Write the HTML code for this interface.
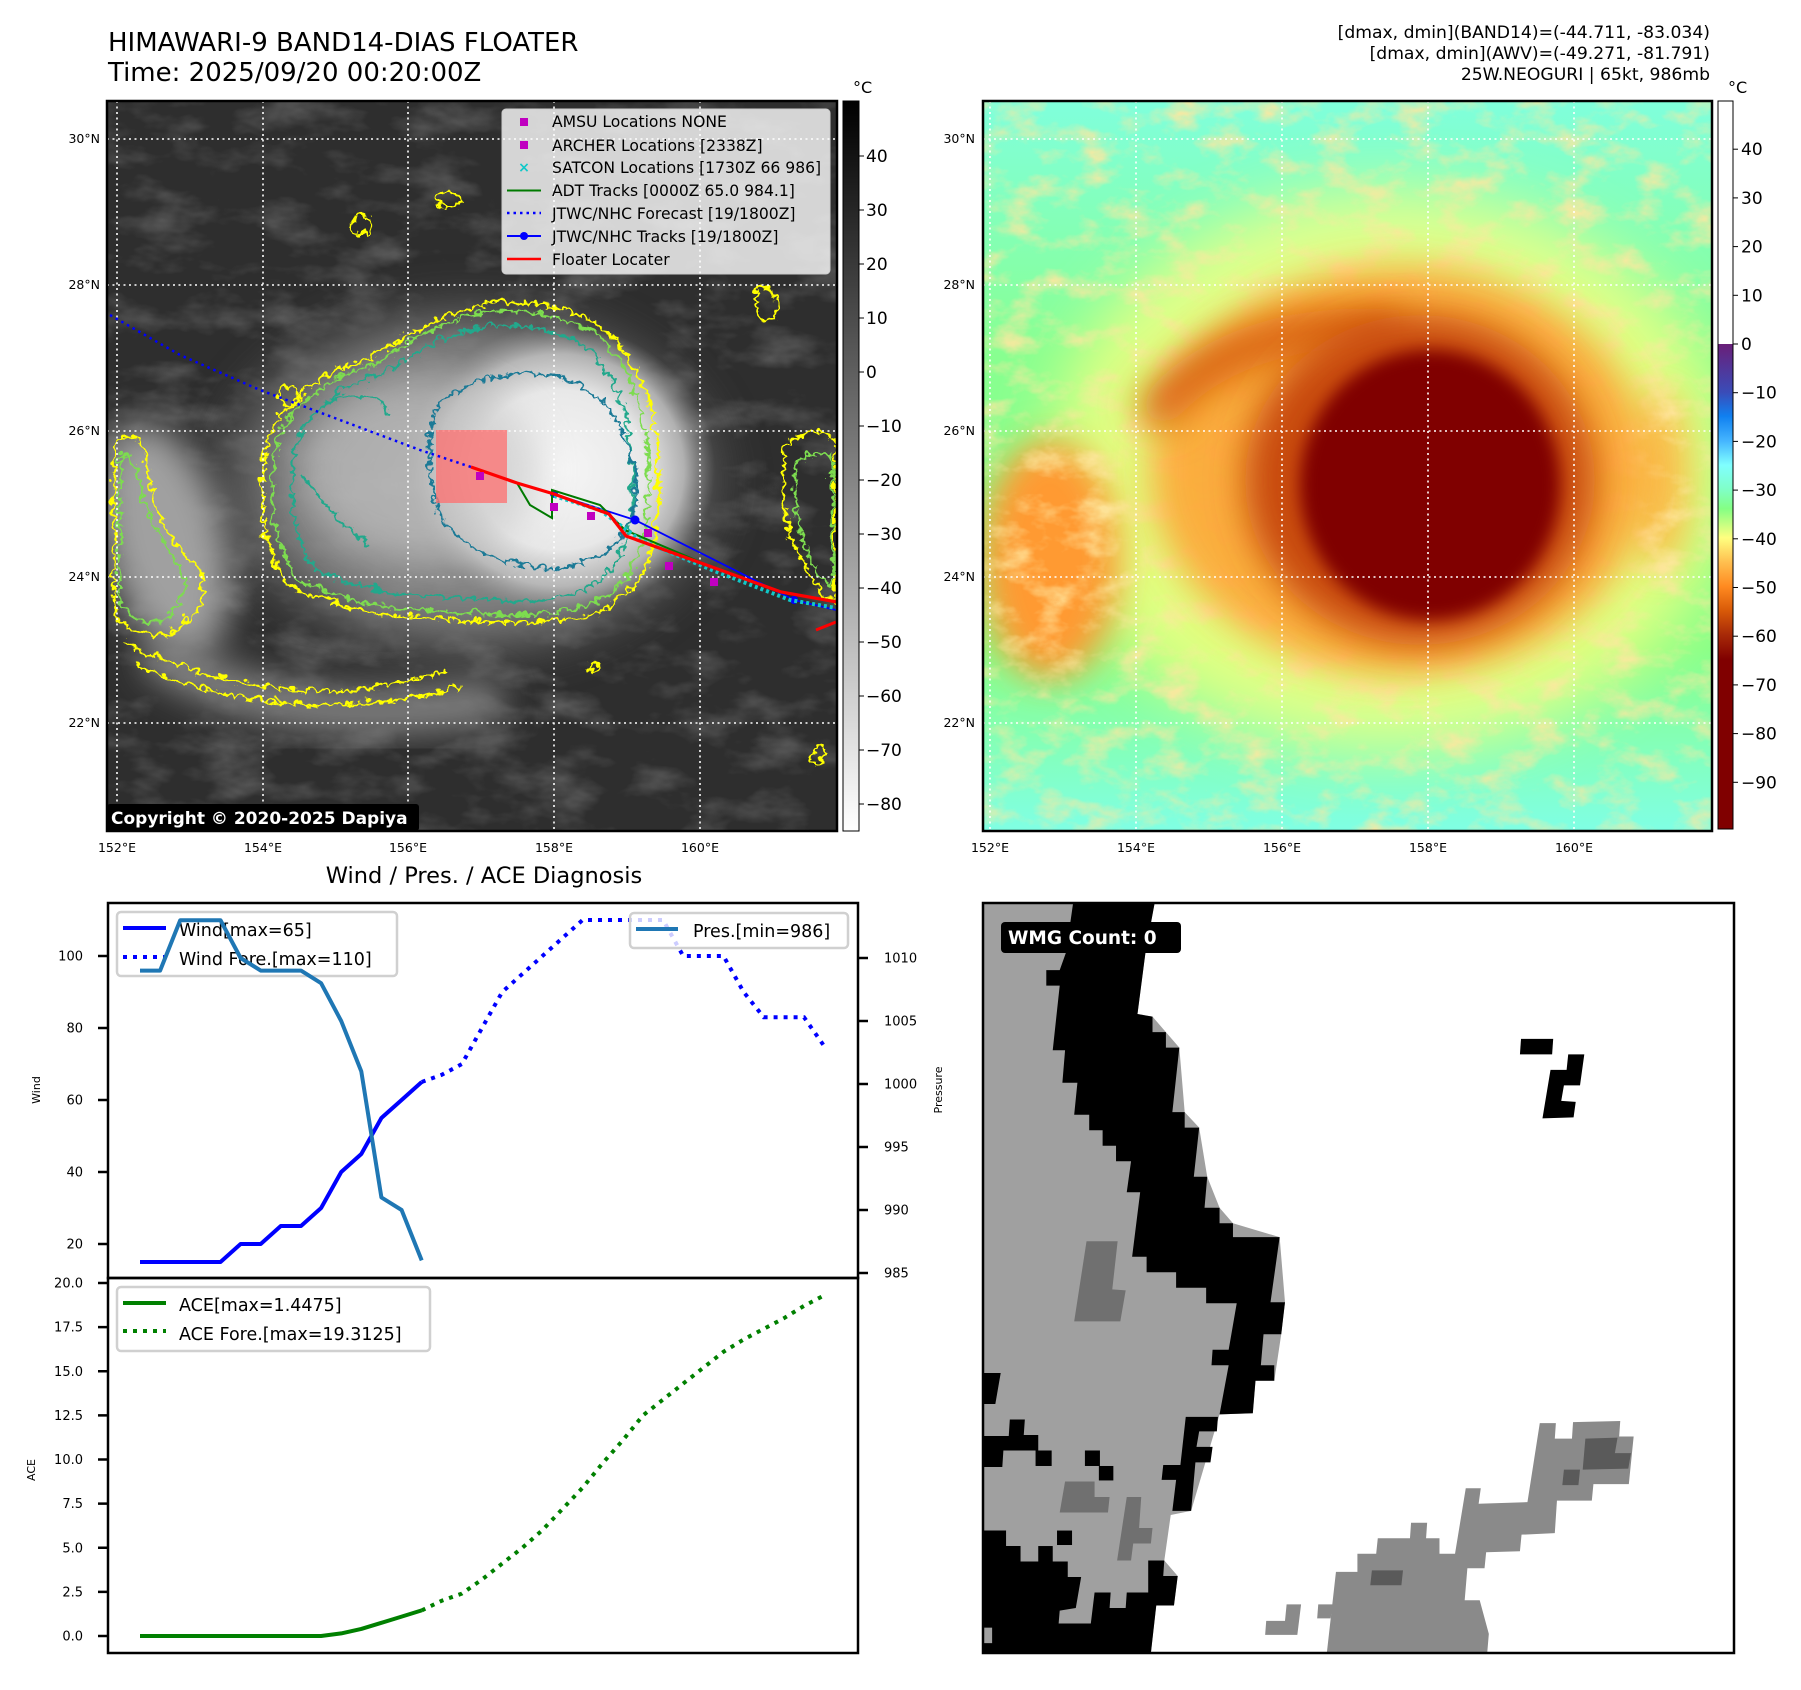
<!DOCTYPE html>
<html><head><meta charset="utf-8"><style>
html,body{margin:0;padding:0;background:#fff;}
svg{display:block;font-family:"DejaVu Sans","Liberation Sans",sans-serif;}
</style></head><body>
<svg id="root" width="1801" height="1690" viewBox="0 0 1801 1690" xmlns="http://www.w3.org/2000/svg">
<defs>
 <clipPath id="clipL"><rect x="107" y="101" width="730" height="730"/></clipPath>
 <clipPath id="clipR"><rect x="983" y="101" width="729" height="730"/></clipPath>
 <filter id="noiseL" x="0" y="0" width="100%" height="100%"><feTurbulence type="fractalNoise" baseFrequency="0.015 0.03" numOctaves="4" seed="3"/><feColorMatrix type="matrix" values="0 0 0 0 1 0 0 0 0 1 0 0 0 0 1 1.6 0 0 0 -0.75"/></filter>
 <filter id="noiseR" x="0" y="0" width="100%" height="100%"><feTurbulence type="fractalNoise" baseFrequency="0.025 0.04" numOctaves="4" seed="7"/><feColorMatrix type="matrix" values="0 0 0 0 1 0 0 0 0 0.8 0 0 0 0 0.35 2.4 0 0 0 -1.1"/></filter>
 <filter id="blur30" x="-60%" y="-60%" width="220%" height="220%"><feGaussianBlur stdDeviation="30"/></filter>
 <filter id="blur18" x="-60%" y="-60%" width="220%" height="220%"><feGaussianBlur stdDeviation="18"/></filter>
 <filter id="blur8" x="-40%" y="-40%" width="180%" height="180%"><feGaussianBlur stdDeviation="8"/></filter>
 <filter id="wig" x="-10%" y="-10%" width="120%" height="120%"><feTurbulence type="turbulence" baseFrequency="0.045" numOctaves="2" seed="2" result="t"/><feDisplacementMap in="SourceGraphic" in2="t" scale="22" xChannelSelector="R" yChannelSelector="G"/></filter>
 <linearGradient id="cbL" x1="0" y1="0" x2="0" y2="1"><stop offset="0" stop-color="#000"/><stop offset="1" stop-color="#fff"/></linearGradient>
 <linearGradient id="cbR" x1="0" y1="101" x2="0" y2="829" gradientUnits="userSpaceOnUse">
  <stop offset="0" stop-color="#fff"/><stop offset="0.3337" stop-color="#fff"/>
  <stop offset="0.3338" stop-color="#6a1f78"/><stop offset="0.40" stop-color="#3a4cb8"/>
  <stop offset="0.433" stop-color="#1080f0"/><stop offset="0.467" stop-color="#45b5ff"/>
  <stop offset="0.50" stop-color="#80ffff"/><stop offset="0.533" stop-color="#80ffc8"/>
  <stop offset="0.56" stop-color="#84ff84"/><stop offset="0.60" stop-color="#ffff80"/>
  <stop offset="0.633" stop-color="#ffc050"/><stop offset="0.667" stop-color="#ff8a20"/>
  <stop offset="0.70" stop-color="#d85a08"/><stop offset="0.733" stop-color="#a82a08"/>
  <stop offset="0.767" stop-color="#800000"/><stop offset="1" stop-color="#800000"/>
 </linearGradient>
 <radialGradient id="coreL"><stop offset="0" stop-color="#f6f6f6"/><stop offset="0.55" stop-color="#e8e8e8"/><stop offset="0.8" stop-color="#c4c4c4" stop-opacity="0.8"/><stop offset="1" stop-color="#999" stop-opacity="0"/></radialGradient>
 <radialGradient id="bandL"><stop offset="0" stop-color="#b0b0b0"/><stop offset="0.7" stop-color="#8a8a8a"/><stop offset="1" stop-color="#555" stop-opacity="0"/></radialGradient>
 <linearGradient id="bgR" x1="0" y1="0" x2="0" y2="1"><stop offset="0" stop-color="#80ffdc"/><stop offset="0.35" stop-color="#88ff90"/><stop offset="0.75" stop-color="#88ff88"/><stop offset="1" stop-color="#80ffe4"/></linearGradient>
</defs>

<text x="108" y="51" font-size="26" fill="#000">HIMAWARI-9 BAND14-DIAS FLOATER</text>
<text x="108" y="81" font-size="26" fill="#000">Time: 2025/09/20 00:20:00Z</text>
<g font-size="17.2" text-anchor="end" fill="#000">
 <text x="1710" y="38">[dmax, dmin](BAND14)=(-44.711, -83.034)</text>
 <text x="1710" y="59">[dmax, dmin](AWV)=(-49.271, -81.791)</text>
 <text x="1710" y="80">25W.NEOGURI | 65kt, 986mb</text>
</g>

<!-- LEFT MAP -->
<g clip-path="url(#clipL)">
 <rect x="107" y="101" width="730" height="730" fill="#2e2e2e"/>
 <rect x="107" y="101" width="730" height="730" filter="url(#noiseL)" opacity="0.3"/>
 <ellipse cx="470" cy="480" rx="280" ry="200" fill="url(#bandL)" filter="url(#blur18)" opacity="0.85"/>
 <ellipse cx="165" cy="540" rx="60" ry="120" fill="#a0a0a0" filter="url(#blur18)" transform="rotate(-15 165 540)"/>
 <path d="M150,650 C260,720 380,720 500,700" stroke="#8a8a8a" stroke-width="40" fill="none" filter="url(#blur18)"/>
 <ellipse cx="560" cy="470" rx="155" ry="145" fill="url(#coreL)"/>
 <ellipse cx="420" cy="470" rx="120" ry="90" fill="#c8c8c8" opacity="0.6" filter="url(#blur18)"/>
 <g transform="translate(107,101) scale(0.5747,0.556) translate(-188,-182)" fill="none" filter="url(#wig)">
  <path vector-effect="non-scaling-stroke" stroke="#ffff00" stroke-width="2.5" d="M460,800 C480,720 560,660 640,640 C700,600 760,560 830,545 C900,530 960,545 1000,560 C1060,580 1100,640 1120,700 C1145,780 1150,900 1130,980 C1110,1060 1060,1100 980,1110 C900,1120 800,1110 720,1105 C640,1100 560,1080 500,1050 C460,1000 440,900 460,800 Z"/>
  <path vector-effect="non-scaling-stroke" stroke="#7ddc50" stroke-width="2.5" transform="translate(800,830) scale(0.95) translate(-800,-830)" d="M460,800 C480,720 560,660 640,640 C700,600 760,560 830,545 C900,530 960,545 1000,560 C1060,580 1100,640 1120,700 C1145,780 1150,900 1130,980 C1110,1060 1060,1100 980,1110 C900,1120 800,1110 720,1105 C640,1100 560,1080 500,1050 C460,1000 440,900 460,800 Z"/>
  <path vector-effect="non-scaling-stroke" stroke="#23a88c" stroke-width="2.5" transform="translate(820,830) scale(0.86) translate(-820,-830)" d="M460,800 C480,720 560,660 640,640 C700,600 760,560 830,545 C900,530 960,545 1000,560 C1060,580 1100,640 1120,700 C1145,780 1150,900 1130,980 C1110,1060 1060,1100 980,1110 C900,1120 800,1110 720,1105 C640,1100 560,1080 500,1050 C460,1000 440,900 460,800 Z"/>
  <path vector-effect="non-scaling-stroke" stroke="#1f7a96" stroke-width="2.5" d="M760,720 C800,680 880,660 960,670 C1040,690 1090,760 1100,840 C1110,920 1080,990 1000,1010 C920,1030 840,1000 790,960 C740,920 730,780 760,720 Z"/>
  <path vector-effect="non-scaling-stroke" stroke="#ffff00" stroke-width="2.5" d="M195,790 C225,765 245,780 255,850 C265,920 300,980 335,1010 C370,1060 340,1110 290,1135 C250,1145 210,1125 195,1100 Z"/>
  <path vector-effect="non-scaling-stroke" stroke="#7ddc50" stroke-width="2.5" d="M205,820 C225,800 235,820 240,870 C250,930 290,990 315,1020 C330,1060 300,1100 270,1115 C240,1115 215,1100 205,1080 Z"/>
  <path vector-effect="non-scaling-stroke" stroke="#ffff00" stroke-width="2.5" d="M210,1150 C310,1200 400,1225 500,1235 C600,1245 700,1225 770,1200 M230,1190 C320,1230 420,1255 520,1262 C620,1268 720,1250 800,1230"/>
  <path vector-effect="non-scaling-stroke" stroke="#23a88c" stroke-width="2.5" d="M560,720 C600,700 650,700 680,740 M520,850 C560,900 600,950 640,980"/>
  <ellipse vector-effect="non-scaling-stroke" stroke="#ffff00" stroke-width="2.5" cx="775" cy="352" rx="22" ry="14"/>
  <ellipse vector-effect="non-scaling-stroke" stroke="#ffff00" stroke-width="2.5" cx="625" cy="400" rx="18" ry="20"/>
  <ellipse vector-effect="non-scaling-stroke" stroke="#ffff00" stroke-width="2.5" cx="500" cy="708" rx="20" ry="16"/>
  <ellipse vector-effect="non-scaling-stroke" stroke="#ffff00" stroke-width="2.5" cx="1330" cy="540" rx="20" ry="30"/>
  <path vector-effect="non-scaling-stroke" stroke="#ffff00" stroke-width="2.5" d="M1360,800 C1400,760 1440,760 1450,800 L1450,1080 C1410,1060 1370,980 1360,900 Z"/>
  <path vector-effect="non-scaling-stroke" stroke="#7ddc50" stroke-width="2.5" d="M1380,830 C1410,800 1440,800 1445,830 L1445,1050 C1410,1030 1385,960 1380,900 Z"/>
  <ellipse vector-effect="non-scaling-stroke" stroke="#ffff00" stroke-width="2.5" cx="1420" cy="1355" rx="10" ry="14"/>
  <ellipse vector-effect="non-scaling-stroke" stroke="#ffff00" stroke-width="2.5" cx="1030" cy="1195" rx="8" ry="6"/>
 </g>
 <g stroke="#fff" stroke-width="1.6" stroke-dasharray="2,3.5">
  <line x1="117" y1="101" x2="117" y2="831"/><line x1="263" y1="101" x2="263" y2="831"/><line x1="408" y1="101" x2="408" y2="831"/><line x1="554" y1="101" x2="554" y2="831"/><line x1="700" y1="101" x2="700" y2="831"/>
  <line x1="107" y1="139" x2="837" y2="139"/><line x1="107" y1="285" x2="837" y2="285"/><line x1="107" y1="431" x2="837" y2="431"/><line x1="107" y1="577" x2="837" y2="577"/><line x1="107" y1="723" x2="837" y2="723"/>
 </g>
 <rect x="436" y="430" width="71" height="73" fill="#ff6f6f" opacity="0.75"/>
 <polyline points="110,315 180,355 260,390 340,420 420,450 471,467" fill="none" stroke="#0000ff" stroke-width="2.5" stroke-dasharray="2.5,4"/>
 <polyline points="836,610 794,600 635,520 554,494" fill="none" stroke="#0000ff" stroke-width="1.8"/>
 <g fill="#0000ff"><circle cx="794" cy="600" r="4"/><circle cx="635" cy="520" r="4.5"/><circle cx="554" cy="494" r="4"/></g>
 <polyline points="517,483 530,505 552,518 552,490 600,505 625,530 712,567" fill="none" stroke="#007a00" stroke-width="2"/>
 <polyline points="554,496 600,510 640,540 712,570 790,600 836,608" fill="none" stroke="#10c8c8" stroke-width="4" stroke-dasharray="3,3"/>
 <polyline points="471,467 517,483 554,494 609,514 626,536 712,567 781,592 837,602" fill="none" stroke="#ff0000" stroke-width="3.2"/>
 <polyline points="816,630 836,622" stroke="#ff0000" stroke-width="3" fill="none"/>
 <g fill="#c000c0">
  <rect x="476" y="472" width="8" height="8"/><rect x="550" y="503" width="8" height="8"/><rect x="587" y="512" width="8" height="8"/><rect x="644" y="529" width="8" height="8"/><rect x="665" y="562" width="8" height="8"/><rect x="710" y="578" width="8" height="8"/>
 </g>
 <g>
  <rect x="502" y="109" width="328" height="165" rx="4" fill="#fff" fill-opacity="0.8" stroke="#ccc" stroke-width="1"/>
  <g font-size="15.6" fill="#000">
   <rect x="520" y="118" width="8" height="8" fill="#c000c0"/><text x="552" y="127">AMSU Locations NONE</text>
   <rect x="520" y="141" width="8" height="8" fill="#c000c0"/><text x="552" y="151">ARCHER Locations [2338Z]</text>
   <text x="524" y="172" fill="#10c8c8" text-anchor="middle" font-size="14" font-weight="bold">×</text><text x="552" y="173">SATCON Locations [1730Z 66 986]</text>
   <line x1="507" y1="190.5" x2="541" y2="190.5" stroke="#007a00" stroke-width="2"/><text x="552" y="196">ADT Tracks [0000Z 65.0 984.1]</text>
   <line x1="507" y1="213" x2="541" y2="213" stroke="#0000ff" stroke-width="2.5" stroke-dasharray="2.5,4"/><text x="552" y="219">JTWC/NHC Forecast [19/1800Z]</text>
   <line x1="507" y1="236" x2="541" y2="236" stroke="#0000ff" stroke-width="2"/><circle cx="524" cy="236" r="4" fill="#0000ff"/><text x="552" y="242">JTWC/NHC Tracks [19/1800Z]</text>
   <line x1="507" y1="259" x2="541" y2="259" stroke="#ff0000" stroke-width="2.5"/><text x="552" y="265">Floater Locater</text>
  </g>
 </g>
 <rect x="107" y="804" width="312" height="27" rx="3" fill="#000"/>
 <text x="111" y="824" font-size="17" font-weight="bold" fill="#fff">Copyright © 2020-2025 Dapiya</text>
</g>
<rect x="107" y="101" width="730" height="730" fill="none" stroke="#000" stroke-width="2.5"/>

<rect x="843" y="101" width="16" height="730" fill="url(#cbL)" stroke="#000" stroke-width="1"/>
<text x="853" y="93" font-size="16">°C</text>
<g id="cbLticks" font-size="17" fill="#000"></g>

<g font-size="12.5" fill="#000" text-anchor="end">
 <text x="100" y="143">30°N</text><text x="100" y="289">28°N</text><text x="100" y="435">26°N</text><text x="100" y="581">24°N</text><text x="100" y="727">22°N</text>
</g>
<g font-size="12.5" fill="#000" text-anchor="middle">
 <text x="117" y="852">152°E</text><text x="263" y="852">154°E</text><text x="408" y="852">156°E</text><text x="554" y="852">158°E</text><text x="700" y="852">160°E</text>
</g>

<!-- RIGHT MAP -->
<g clip-path="url(#clipR)">
 <rect x="983" y="101" width="729" height="730" fill="url(#bgR)"/>
 <ellipse cx="1390" cy="470" rx="340" ry="280" fill="#ffff80" opacity="0.75" filter="url(#blur30)"/>
 <ellipse cx="1050" cy="560" rx="70" ry="120" fill="#ff9a30" filter="url(#blur18)"/>
 <ellipse cx="1660" cy="480" rx="30" ry="90" fill="#ffb040" opacity="0.8" filter="url(#blur18)"/>
 <rect x="983" y="101" width="729" height="730" filter="url(#noiseR)" opacity="0.9"/>
 <ellipse cx="1400" cy="470" rx="250" ry="205" fill="#ffa030" opacity="0.85" filter="url(#blur18)"/>
 <path d="M1150,420 C1200,350 1300,320 1400,330" stroke="#d86010" stroke-width="40" fill="none" filter="url(#blur18)"/>
 <ellipse cx="1420" cy="480" rx="175" ry="165" fill="#c84808" filter="url(#blur18)"/>
 <ellipse cx="1430" cy="485" rx="130" ry="135" fill="#800000" filter="url(#blur8)"/>
 <g stroke="#fff" stroke-width="1.6" stroke-dasharray="2,3.5">
  <line x1="990" y1="101" x2="990" y2="831"/><line x1="1136" y1="101" x2="1136" y2="831"/><line x1="1282" y1="101" x2="1282" y2="831"/><line x1="1428" y1="101" x2="1428" y2="831"/><line x1="1574" y1="101" x2="1574" y2="831"/>
  <line x1="983" y1="139" x2="1712" y2="139"/><line x1="983" y1="285" x2="1712" y2="285"/><line x1="983" y1="431" x2="1712" y2="431"/><line x1="983" y1="577" x2="1712" y2="577"/><line x1="983" y1="723" x2="1712" y2="723"/>
 </g>
</g>
<rect x="983" y="101" width="729" height="730" fill="none" stroke="#000" stroke-width="2.5"/>
<rect x="1718" y="101" width="15" height="728" fill="url(#cbR)" stroke="#000" stroke-width="1"/>
<text x="1728" y="93" font-size="16">°C</text>
<g id="cbRticks" font-size="17" fill="#000"></g>
<g font-size="12.5" fill="#000" text-anchor="end">
 <text x="975" y="143">30°N</text><text x="975" y="289">28°N</text><text x="975" y="435">26°N</text><text x="975" y="581">24°N</text><text x="975" y="727">22°N</text>
</g>
<g font-size="12.5" fill="#000" text-anchor="middle">
 <text x="990" y="852">152°E</text><text x="1136" y="852">154°E</text><text x="1282" y="852">156°E</text><text x="1428" y="852">158°E</text><text x="1574" y="852">160°E</text>
</g>

<!-- WIND / PRES / ACE -->
<text x="484" y="883" font-size="22.5" text-anchor="middle">Wind / Pres. / ACE Diagnosis</text>
<g id="chart"></g>

<g>
 <rect x="117" y="912" width="280" height="64" rx="4" fill="#fff" fill-opacity="0.8" stroke="#d0d0d0" stroke-width="2.5"/>
 <line x1="123" y1="928" x2="166" y2="928" stroke="#0000ff" stroke-width="4"/>
 <line x1="123" y1="957" x2="166" y2="957" stroke="#0000ff" stroke-width="4" stroke-dasharray="4,6"/>
 <text x="179" y="936" font-size="17.5">Wind[max=65]</text>
 <text x="179" y="965" font-size="17.5">Wind Fore.[max=110]</text>
</g>
<g id="presLayer"></g>
<g>
 <rect x="630" y="913" width="218" height="35" rx="4" fill="#fff" fill-opacity="0.8" stroke="#d0d0d0" stroke-width="2.5"/>
 <line x1="636" y1="929" x2="678" y2="929" stroke="#1f77b4" stroke-width="4"/>
 <text x="693" y="937" font-size="17.5">Pres.[min=986]</text>
</g>
<g>
 <rect x="117" y="1287" width="313" height="64" rx="4" fill="#fff" fill-opacity="0.8" stroke="#d0d0d0" stroke-width="2.5"/>
 <line x1="123" y1="1303" x2="166" y2="1303" stroke="#008000" stroke-width="4"/>
 <line x1="123" y1="1331" x2="166" y2="1331" stroke="#008000" stroke-width="4" stroke-dasharray="4,6"/>
 <text x="179" y="1311" font-size="17.5">ACE[max=1.4475]</text>
 <text x="179" y="1340" font-size="17.5">ACE Fore.[max=19.3125]</text>
</g>
<rect x="108" y="903" width="750" height="375" fill="none" stroke="#000" stroke-width="2.5"/>
<rect x="108" y="1278" width="750" height="375" fill="none" stroke="#000" stroke-width="2.5"/>
<text transform="translate(40,1090) rotate(-90)" font-size="11" text-anchor="middle">Wind</text>
<text transform="translate(942,1090) rotate(-90)" font-size="11" text-anchor="middle">Pressure</text>
<text transform="translate(35,1470) rotate(-90)" font-size="11" text-anchor="middle">ACE</text>

<!-- WMG panel -->
<g>
 <rect x="983" y="903" width="751" height="750" fill="#fff"/>
 <g transform="translate(983,903) scale(0.5364,0.5165) translate(-42,-45)">
  <path fill="#a0a0a0" d="M42,45 L362,45 L345,140 L330,260 L358,265 L383,295 L408,325 L418,450 L445,480 L460,575 L483,635 L508,665 L595,692 L605,818 L598,880 L585,970 L550,970 L545,1033 L483,1035 L430,1222 L392,1230 L380,1318 L405,1348 L398,1405 L365,1405 L355,1497 L42,1497 Z"/>
  <g fill="#000">
   <path d="M210,45 L362,45 L345,140 L330,260 L358,265 L358,295 L383,295 L383,325 L408,325 L395,450 L418,450 L418,480 L445,480 L435,575 L460,575 L455,635 L483,635 L483,665 L508,665 L508,692 L595,692 L578,818 L605,818 L598,880 L565,880 L560,940 L585,940 L585,970 L550,970 L545,1033 L483,1035 L500,940 L468,940 L470,910 L500,910 L515,820 L458,820 L458,790 L402,790 L402,760 L347,760 L347,730 L320,730 L335,605 L310,605 L318,545 L290,545 L290,515 L265,515 L265,485 L240,485 L240,455 L212,455 L218,393 L190,393 L195,330 L172,330 L185,205 L160,205 L160,175 L185,175 L197,140 Z"/>
   <path d="M420,1040 L480,1040 L478,1068 L445,1068 L440,1098 L470,1098 L466,1128 L438,1128 L430,1222 L395,1222 L402,1162 L375,1162 L378,1133 L410,1133 Z"/>
   <path d="M42,1260 L85,1260 L85,1290 L112,1290 L112,1320 L200,1320 L200,1350 L225,1350 L215,1410 L185,1415 L183,1440 L243,1440 L250,1380 L280,1380 L278,1410 L308,1410 L310,1380 L350,1380 L350,1318 L380,1318 L378,1348 L405,1348 L398,1405 L365,1405 L355,1497 L42,1497 Z"/>
   <path d="M42,955 L75,955 L65,1015 L42,1015 Z"/>
   <path d="M42,1077 L90,1077 L92,1045 L120,1045 L118,1075 L145,1075 L145,1105 L80,1105 L78,1137 L42,1137 Z"/>
   <rect x="140" y="1105" width="30" height="30"/><rect x="232" y="1105" width="28" height="30"/><rect x="258" y="1135" width="27" height="28"/><rect x="180" y="1260" width="28" height="28"/><rect x="145" y="1290" width="27" height="30"/>
   <path d="M1045,308 L1105,308 L1103,338 L1043,338 Z"/>
   <path d="M1133,338 L1163,338 L1155,398 L1125,398 L1120,428 L1147,430 L1143,460 L1085,462 L1100,368 L1130,368 Z"/>
  </g>
  <rect x="42" y="1448" width="17" height="30" fill="#a0a0a0"/>
  <g fill="#707070">
   <path d="M235,700 L293,700 L283,793 L308,795 L298,855 L212,855 Z"/>
   <path d="M195,1165 L250,1165 L250,1195 L278,1195 L275,1225 L185,1225 Z"/>
   <path d="M310,1195 L337,1195 L333,1255 L358,1255 L355,1285 L322,1285 L318,1318 L292,1318 Z"/>
  </g>
  <g fill="#8a8a8a">
   <path d="M683,1497 L700,1340 L740,1340 L740,1305 L775,1305 L778,1275 L838,1275 L840,1245 L870,1245 L868,1275 L893,1275 L893,1305 L922,1305 L942,1178 L970,1178 L966,1208 L1057,1205 L1080,1052 L1110,1052 L1108,1082 L1140,1082 L1142,1050 L1230,1048 L1228,1078 L1255,1078 L1246,1170 L1180,1170 L1177,1202 L1112,1202 L1108,1265 L1046,1268 L1043,1300 L980,1302 L977,1333 L945,1333 L940,1395 L968,1395 L985,1460 L982,1497 Z"/>
   <path d="M570,1435 L605,1435 L608,1403 L635,1403 L628,1462 L568,1462 Z"/>
   <path d="M667,1403 L695,1403 L690,1430 L665,1430 Z"/>
  </g>
  <g fill="#5a5a5a">
   <path d="M1165,1082 L1225,1080 L1220,1110 L1250,1110 L1245,1140 L1160,1142 Z"/>
   <path d="M1125,1142 L1155,1142 L1152,1172 L1122,1172 Z"/>
   <path d="M767,1337 L825,1337 L822,1366 L764,1366 Z"/>
  </g>
 </g>
 <rect x="1001" y="922" width="180" height="31" rx="4" fill="#000"/>
 <text x="1008" y="944" font-size="18.5" font-weight="bold" fill="#fff">WMG Count: 0</text>
 <rect x="983" y="903" width="751" height="750" fill="none" stroke="#000" stroke-width="2.5"/>
</g>

<script>
const windObs = [15,15,15,15,15,20,20,25,25,30,40,45,55,60,65];
const windFore = [65,67,70,80,90,95,100,105,110,110,110,110,110,100,100,100,90,83,83,83,75];
const presObs = [1009,1009,1013,1013,1013,1010,1009,1009,1009,1008,1005,1001,991,990,986];
const aceObs = [0,0,0,0,0,0,0,0,0,0,0.15,0.4,0.75,1.1,1.45];
const aceFore = [1.45,2.0,2.4,3.2,4.1,5.0,6.0,7.2,8.4,9.8,11.1,12.5,13.4,14.3,15.2,16.1,16.8,17.4,18.0,18.7,19.3];
const windTicks = [20,40,60,80,100];
const presTicks = [985,990,995,1000,1005,1010];
const aceTicks = [0,2.5,5,7.5,10,12.5,15,17.5,20];
const cbLTicks = [40,30,20,10,0,-10,-20,-30,-40,-50,-60,-70,-80];
const cbRTicks = [40,30,20,10,0,-10,-20,-30,-40,-50,-60,-70,-80,-90];

const NS = 'http://www.w3.org/2000/svg';
function xS(i){ return 140 + i*20.12; }
function windY(v){ return 956 - (v-100)*3.6; }
function presY(p){ return 958 - (p-1010)*12.6; }
function aceY(a){ return 1636 - a*17.65; }
function cbLY(v){ return 156 + (40-v)*5.4; }
function cbRY(v){ return 344 - v*4.87; }

const chart = document.getElementById('chart');
const presLayer = document.getElementById('presLayer');
function mk(tag, attrs, parent){
  const e = document.createElementNS(NS, tag);
  for (const k in attrs) e.setAttribute(k, attrs[k]);
  (parent||chart).appendChild(e);
  return e;
}
function pts(arr, off, yf){ return arr.map((v,i)=> xS(i+off).toFixed(1)+','+yf(v).toFixed(1)).join(' '); }

let pl;
pl = mk('polyline',{points:pts(windObs,0,windY),fill:'none',stroke:'#0000ff','stroke-width':4,'stroke-linejoin':'round'});


pl = mk('polyline',{points:pts(windFore,14,windY),fill:'none',stroke:'#0000ff','stroke-width':4,'stroke-dasharray':'4,6'});


pl = mk('polyline',{points:pts(aceObs,0,aceY),fill:'none',stroke:'#008000','stroke-width':4,'stroke-linejoin':'round'});


pl = mk('polyline',{points:pts(aceFore,14,aceY),fill:'none',stroke:'#008000','stroke-width':4,'stroke-dasharray':'4,6'});


pl = mk('polyline',{points:pts(presObs,0,presY),fill:'none',stroke:'#1f77b4','stroke-width':4,'stroke-linejoin':'round'},presLayer);



windTicks.forEach(v=>{
  const y = windY(v);
  const t = mk('line',{x1:98,x2:108,y1:y,y2:y,stroke:'#000','stroke-width':2.5});
  
  
  const l = mk('text',{x:83,y:y+4.5,'font-size':13,'text-anchor':'end'});
  l.textContent = v;
  
  
});
presTicks.forEach(v=>{
  const y = presY(v);
  const t = mk('line',{x1:858,x2:868,y1:y,y2:y,stroke:'#000','stroke-width':2.5});
  
  
  const l = mk('text',{x:884,y:y+4.5,'font-size':13});
  l.textContent = v;
  
  
});
aceTicks.forEach(v=>{
  const y = aceY(v);
  const t = mk('line',{x1:98,x2:108,y1:y,y2:y,stroke:'#000','stroke-width':2.5});
  
  
  const l = mk('text',{x:83,y:y+4.5,'font-size':13,'text-anchor':'end'});
  l.textContent = v.toFixed(1);
  
  
});
const gL = document.getElementById('cbLticks');
cbLTicks.forEach(v=>{
  const y = cbLY(v);
  const t = mk('line',{x1:859,x2:864,y1:y,y2:y,stroke:'#000','stroke-width':1},gL);
  
  
  const l = mk('text',{x:866,y:y+6},gL);
  l.textContent = (v<0?'\u2212'+(-v):String(v));
  
  
});
const gR = document.getElementById('cbRticks');
cbRTicks.forEach(v=>{
  const y = cbRY(v);
  const t = mk('line',{x1:1733,x2:1738,y1:y,y2:y,stroke:'#000','stroke-width':1},gR);
  
  
  const l = mk('text',{x:1741,y:y+6},gR);
  l.textContent = (v<0?'\u2212'+(-v):String(v));
  
  
});
</script>
</svg>
</body></html>
